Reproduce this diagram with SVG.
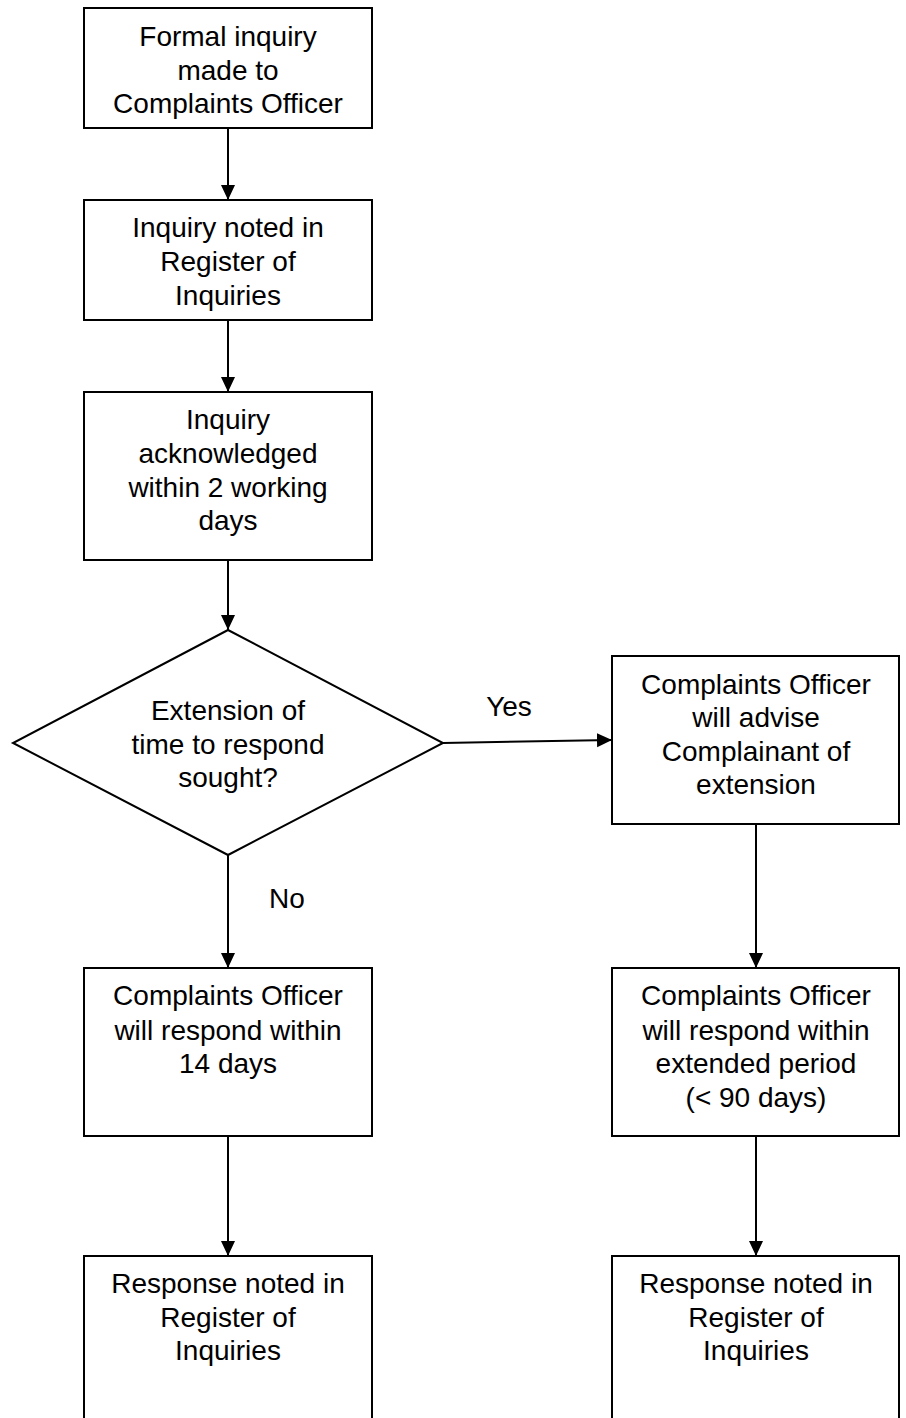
<svg xmlns="http://www.w3.org/2000/svg" width="906" height="1418" viewBox="0 0 906 1418">
<style>
.box{fill:#fff;stroke:#000;stroke-width:2}
.t{font-family:"Liberation Sans",Arial,sans-serif;font-size:28px;fill:#000;text-anchor:middle}
.c{stroke:#000;stroke-width:2;fill:none;marker-end:url(#ah)}
</style>
<defs>
<marker id="ah" markerUnits="userSpaceOnUse" markerWidth="16" markerHeight="16" refX="15" refY="7" orient="auto">
<path d="M0,0 L15,7 L0,14 Z" fill="#000"/>
</marker>
</defs>
<rect width="906" height="1418" fill="#fff"/>
<g id="connectors">
<line class="c" x1="228" y1="128" x2="228" y2="200"/>
<line class="c" x1="228" y1="320" x2="228" y2="392"/>
<line class="c" x1="228" y1="560" x2="228" y2="630"/>
<line class="c" x1="443" y1="743" x2="612" y2="740"/>
<line class="c" x1="228" y1="855" x2="228" y2="968"/>
<line class="c" x1="756" y1="824" x2="756" y2="968"/>
<line class="c" x1="228" y1="1136" x2="228" y2="1256"/>
<line class="c" x1="756" y1="1136" x2="756" y2="1256"/>
<text class="t" x="509" y="716">Yes</text>
<text class="t" x="287" y="908">No</text>
</g>
<g id="n1">
<rect class="box" x="84" y="8" width="288" height="120"/>
<text class="t" x="228" y="46">Formal inquiry</text>
<text class="t" x="228" y="80">made to</text>
<text class="t" x="228" y="113">Complaints Officer</text>
</g>
<g id="n2">
<rect class="box" x="84" y="200" width="288" height="120"/>
<text class="t" x="228" y="237">Inquiry noted in</text>
<text class="t" x="228" y="271">Register of</text>
<text class="t" x="228" y="305">Inquiries</text>
</g>
<g id="n3">
<rect class="box" x="84" y="392" width="288" height="168"/>
<text class="t" x="228" y="429">Inquiry</text>
<text class="t" x="228" y="463">acknowledged</text>
<text class="t" x="228" y="497">within 2 working</text>
<text class="t" x="228" y="530">days</text>
</g>
<g id="n4">
<polygon class="box" points="228,630 443,743 228,855 13,743"/>
<text class="t" x="228" y="720">Extension of</text>
<text class="t" x="228" y="754">time to respond</text>
<text class="t" x="228" y="787">sought?</text>
</g>
<g id="n5">
<rect class="box" x="612" y="656" width="287" height="168"/>
<text class="t" x="756" y="694">Complaints Officer</text>
<text class="t" x="756" y="727">will advise</text>
<text class="t" x="756" y="761">Complainant of</text>
<text class="t" x="756" y="794">extension</text>
</g>
<g id="n6">
<rect class="box" x="84" y="968" width="288" height="168"/>
<text class="t" x="228" y="1005">Complaints Officer</text>
<text class="t" x="228" y="1040">will respond within</text>
<text class="t" x="228" y="1073">14 days</text>
</g>
<g id="n7">
<rect class="box" x="612" y="968" width="287" height="168"/>
<text class="t" x="756" y="1005">Complaints Officer</text>
<text class="t" x="756" y="1040">will respond within</text>
<text class="t" x="756" y="1073">extended period</text>
<text class="t" x="756" y="1107">(&lt; 90 days)</text>
</g>
<g id="n8">
<rect class="box" x="84" y="1256" width="288" height="200"/>
<text class="t" x="228" y="1293">Response noted in</text>
<text class="t" x="228" y="1327">Register of</text>
<text class="t" x="228" y="1360">Inquiries</text>
</g>
<g id="n9">
<rect class="box" x="612" y="1256" width="287" height="200"/>
<text class="t" x="756" y="1293">Response noted in</text>
<text class="t" x="756" y="1327">Register of</text>
<text class="t" x="756" y="1360">Inquiries</text>
</g>
</svg>
